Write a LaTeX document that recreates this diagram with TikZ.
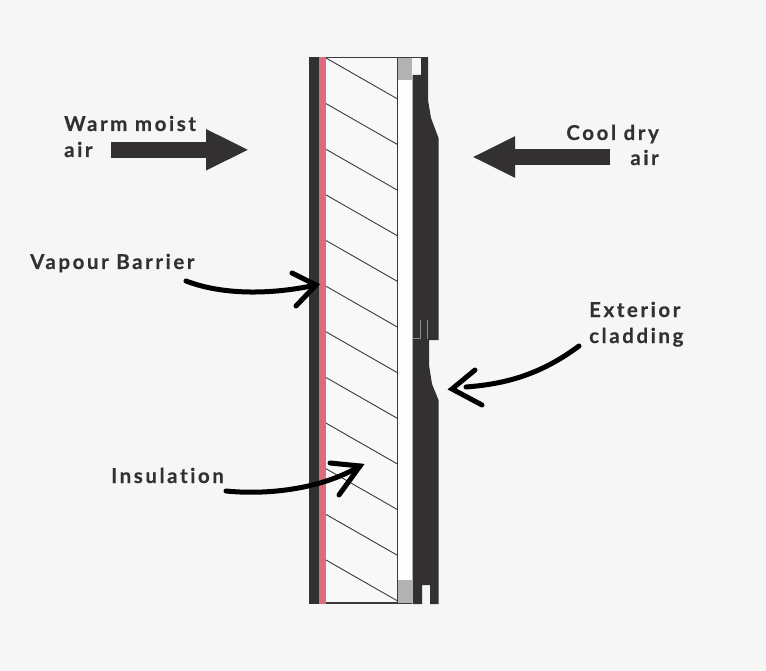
\documentclass[tikz,border=0pt]{standalone}
\usepackage{fontspec}
\setmainfont{Lato}[BoldFont={Lato Bold},BoldFeatures={FakeBold=0.35},LetterSpace=12.5,Ligatures=NoCommon]
\usetikzlibrary{arrows.meta}
\definecolor{bgc}{HTML}{F6F6F6}
\definecolor{darkc}{HTML}{333031}
\definecolor{pinkc}{HTML}{DC6B7F}
\definecolor{greyc}{HTML}{B2B2B2}
\definecolor{linec}{HTML}{3A3A3A}
\tikzset{
  lbl/.style={inner sep=0pt,anchor=base west,text=darkc,font=\bfseries\fontsize{20.5}{24}\selectfont},
  lblr/.style={lbl,anchor=base east},
  hatch/.style={draw=linec,line width=0.9pt},
  blockarrow/.style={draw=darkc,line width=15.5pt,-{Triangle[length=43pt,width=38pt,fill=darkc]}},
  pointer/.style={draw=black,line width=5pt,line cap=round,line join=miter},
}
\begin{document}
\begin{tikzpicture}[x=1pt,y=-1pt]
\useasboundingbox (0,0) rectangle (766,671);
\fill[bgc] (0,0) rectangle (766,671);
% insulation outline
\fill[white!25!bgc] (326,58) rectangle (397,603);
\fill[white!80!bgc] (397,80) rectangle (412,580);
\draw[linec,line width=1.3pt] (326,57.6) -- (428,57.6);
\draw[linec,line width=1.6pt] (326,603) -- (412,603);
\draw[linec,line width=1pt] (397.6,57) -- (397.6,604);
% hatching
\foreach \y in {58,103.6,149.3,194.9,240.5,286.2,331.8,377.5,423.1,468.7,514.4,560} {
  \draw[hatch] (326,\y) -- (397.6,\y+41);
}
% wall layers
\fill[darkc] (309,57) rectangle (319,604);
\fill[pinkc] (319,57) rectangle (326,604);
\fill[greyc] (397.6,57.6) rectangle (412,80);
\fill[greyc] (397.6,580) rectangle (412,603);
% cladding
\fill[darkc] (421,58) -- (428,58) -- (428,100) -- (431,118) -- (438.5,138) -- (438.5,340)
  -- (429,340) -- (429,365) -- (432,384) -- (438.5,400) -- (438.5,604) -- (430,604) -- (430,585)
  -- (422,585) -- (422,604) -- (412.5,604) -- (412.5,75) -- (421,75) -- cycle;
\draw[greyc!70!darkc,line width=0.7pt] (420,320) -- (420,338) -- (413,338);
\draw[greyc!70!darkc,line width=0.7pt] (427,320) -- (427,339);
% labels
\node[lbl] (warm) at (64,131) {Warm moist};
\node[lbl] (warmb) at (64,157) {air};
\node[lblr] (cool) at (659,140) {Cool dry};
\node[lblr] (coolb) at (659,165) {air};
\node[lbl] (vapour) at (30,269) {Vapour Barrier};
\node[lbl] (insul) at (111,483) {Insulation};
\node[lbl] (ext) at (589,317) {Exterior};
\node[lbl] (clad) at (589,343) {cladding};
% block arrows
\coordinate (wa) at (111,149.8);
\coordinate (wb) at (249,149.8);
\coordinate (ca) at (610,157);
\coordinate (cb) at (472,157);
\draw[blockarrow] (wa) -- (wb);
\draw[blockarrow] (ca) -- (cb);
% pointers
\coordinate (v0) at (186,281);
\coordinate (v1) at (316,285);
\coordinate (v2) at (292,273);
\coordinate (v3) at (296,306);
\draw[pointer] (v0) .. controls (225,296) and (275,294) .. (v1);
\draw[pointer] (v2) -- (v1) -- (v3);
\coordinate (i0) at (226,491);
\coordinate (i1) at (360,466);
\coordinate (i2) at (330,463);
\coordinate (i3) at (339,495);
\draw[pointer] (i0) .. controls (265,495) and (320,490) .. (i1);
\draw[pointer] (i2) -- (i1) -- (i3);
\coordinate (e0) at (579,346);
\coordinate (e1) at (466,387);
\coordinate (e2) at (475,370);
\coordinate (e3) at (452,389);
\coordinate (e4) at (482,405);
\draw[pointer] (e0) .. controls (540,375) and (505,384) .. (e1);
\draw[pointer] (e2) -- (e3) -- (e4);
\end{tikzpicture}
\end{document}
